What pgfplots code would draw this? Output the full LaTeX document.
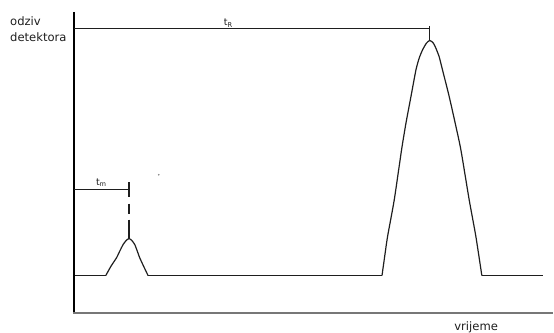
\documentclass[border=0pt]{standalone}
\usepackage{fontspec}
\setmainfont{DejaVu Sans}
\usepackage{pgfplots}
\pgfplotsset{compat=1.18}
\definecolor{ink}{HTML}{1E1E1E}
\definecolor{axisgrey}{HTML}{777777}
\begin{document}
\begin{tikzpicture}
\begin{axis}[
  width=554pt, height=333pt, scale only axis,
  xmin=0, xmax=554, ymin=0, ymax=333, y dir=reverse,
  hide axis, clip=false, no markers,
]
\path (axis cs:0,0) rectangle (axis cs:554,333);

% axes (pixel coordinates, y downward)
\addplot[black, line width=2pt] coordinates {(74,12) (74,314)};
\addplot[axisgrey, line width=2pt] coordinates {(73,313.5) (554,313.5)};

% baseline
\addplot[ink, line width=1.3pt] coordinates {(75,276) (106,276)};
\addplot[ink, line width=1.3pt] coordinates {(148.3,276) (382.7,276)};
\addplot[ink, line width=1.3pt] coordinates {(482.7,276) (544,276)};

% small peak (t_m)
\addplot[ink, line width=1.2pt, smooth, tension=0.35] coordinates {
  (106,276) (111,267) (116.7,258.3) (120,251.5) (123.3,245) (126.5,240.8)
  (129.3,239) (132,240.8) (135,245) (137.5,251.5) (140,258.3) (144,267) (148.3,276)
};

% large peak (t_R)
\addplot[ink, line width=1.2pt, smooth, tension=0.35] coordinates {
  (382.7,276) (385.5,256) (388.3,236.7) (395,200) (402.3,150) (406.7,123.3)
  (411.7,96.7) (416.7,70) (420,58) (423.3,50) (427,43.5) (430.5,40.5)
  (434,43) (436.7,48.3) (440,57) (443.3,70) (450,96.7) (456,123.3)
  (461.7,150) (470,200) (476.7,236.7) (482.7,276)
};

% t_R marker
\addplot[ink, line width=1.2pt] coordinates {(74,28.5) (430.5,28.5)};
\addplot[ink, line width=1.2pt] coordinates {(430.5,26) (430.5,40)};

% t_m marker
\addplot[ink, line width=1.2pt] coordinates {(74,190) (129.3,190)};
\addplot[ink, line width=1.2pt] coordinates {(129.3,182.7) (129.3,197)};
\addplot[ink, line width=1.2pt] coordinates {(129.3,204) (129.3,214)};
\addplot[ink, line width=1.2pt] coordinates {(129.3,220) (129.3,239)};

% stray dot
\addplot[only marks, mark=*, mark size=0.6pt, color=black!45] coordinates {(159,175)};

% labels
\node[anchor=base west, inner sep=0pt, align=left, text=ink,
      font=\fontsize{11.6}{16}\selectfont] at (axis cs:10,42) {odziv\\detektora};
\node[anchor=base west, inner sep=0pt, text=ink, overlay,
      font=\fontsize{11.6}{13}\selectfont] at (axis cs:455,331) {vrijeme};
\node[anchor=base west, inner sep=0pt, text=ink,
      font=\fontsize{9.5}{10}\selectfont] at (axis cs:224,25.5) {t\textsubscript{R}};
\node[anchor=base west, inner sep=0pt, text=ink,
      font=\fontsize{9.5}{10}\selectfont] at (axis cs:96,186) {t\textsubscript{m}};
\end{axis}
\end{tikzpicture}
\end{document}
